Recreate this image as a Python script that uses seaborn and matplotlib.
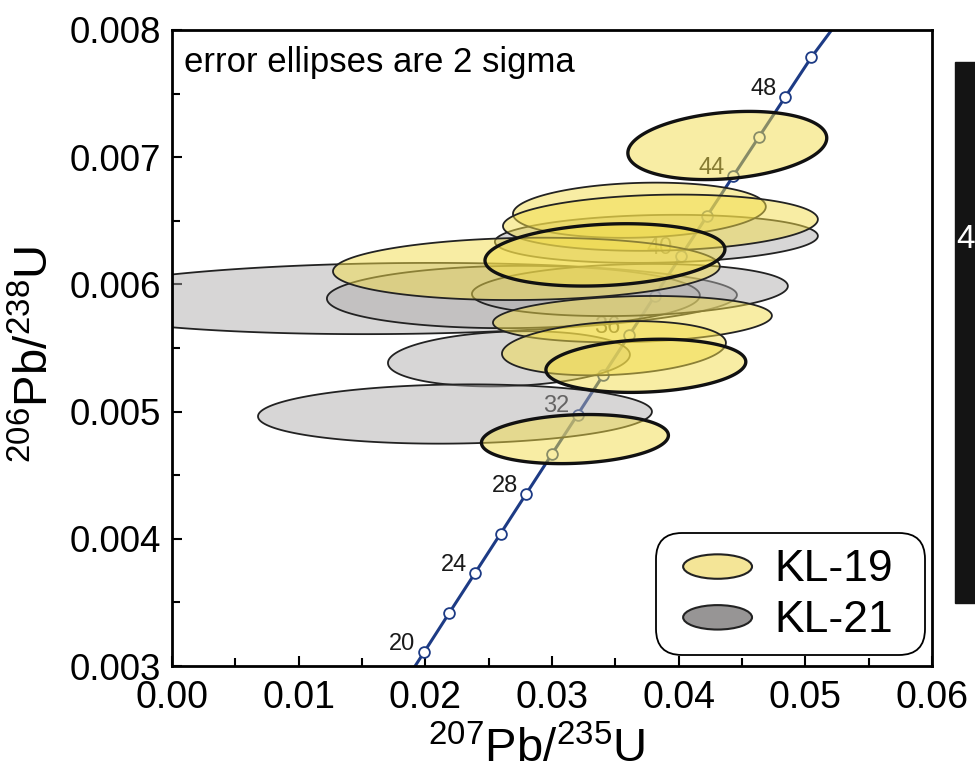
import numpy as np
import pandas as pd
import seaborn as sns
import matplotlib.pyplot as plt
import matplotlib.patches as mpatches
from matplotlib.colors import to_rgb
from matplotlib.transforms import IdentityTransform
from matplotlib.legend_handler import HandlerPatch
from matplotlib.ticker import MultipleLocator

# --- DATA ---
# concordia marker ages [Ma] and their ratios
AGES = [20, 22, 24, 26, 28, 30, 32, 34, 36, 38, 40, 42, 44, 46, 48, 50]
CONC_X = [0.01989, 0.02190, 0.02392, 0.02594, 0.02796, 0.02999, 0.03202, 0.03405,
          0.03609, 0.03813, 0.04018, 0.04223, 0.04429, 0.04635, 0.04841, 0.05048]
CONC_Y = [0.003107, 0.003419, 0.003730, 0.004041, 0.004353, 0.004665, 0.004976, 0.005288,
          0.005600, 0.005912, 0.006224, 0.006536, 0.006849, 0.007161, 0.007473, 0.007786]
LABELLED_AGES = [20, 24, 28, 32, 36, 40, 44, 48]
# concordia line ends (where it leaves the axes)
LINE_START = (0.0190, 0.00297)
LINE_END = (0.0523, 0.00803)

# KL-19 error ellipses: centre, 2-sigma half widths, correlation, bold outline
KL19_X = [0.04384, 0.03690, 0.03856, 0.03418, 0.02798, 0.03635, 0.03489, 0.03741, 0.03181]
KL19_Y = [0.007092, 0.006583, 0.006485, 0.006232, 0.006122, 0.005727, 0.005498, 0.005360, 0.004784]
KL19_SX = [0.00785, 0.00998, 0.01243, 0.00947, 0.01527, 0.01101, 0.00884, 0.00789, 0.00738]
KL19_SY = [0.000268, 0.000217, 0.000221, 0.000245, 0.000245, 0.000182, 0.000213, 0.000209, 0.000193]
KL19_RHO = [0.22, 0.13, 0.12, 0.18, 0.08, 0.15, 0.20, 0.15, 0.15]
KL19_BOLD = [True, False, False, True, False, False, False, True, True]

# KL-21 error ellipses
KL21_X = [0.01784, 0.02695, 0.03615, 0.02660, 0.02234, 0.03824]
KL21_Y = [0.005889, 0.005901, 0.005956, 0.005415, 0.004981, 0.006358]
KL21_SX = [0.02676, 0.01472, 0.01247, 0.00955, 0.01555, 0.01275]
KL21_SY = [0.000280, 0.000245, 0.000205, 0.000217, 0.000233, 0.000189]
KL21_RHO = [0.10, 0.05, 0.15, 0.15, 0.08, 0.12]

YELLOW = "#f2dc4a"
GREY = "#b0aeae"
LINE_BLUE = "#1d3b85"

sns.set_theme(style="ticks")
plt.rcParams["font.family"] = ["Liberation Sans", "DejaVu Sans"]
plt.rcParams["mathtext.fontset"] = "custom"
plt.rcParams["mathtext.rm"] = "Liberation Sans"
plt.rcParams["mathtext.it"] = "Liberation Sans:italic"
plt.rcParams["mathtext.bf"] = "Liberation Sans:bold"
plt.rcParams["text.color"] = "black"
plt.rcParams["axes.labelcolor"] = "black"
plt.rcParams["xtick.color"] = "black"
plt.rcParams["ytick.color"] = "black"


def ellipse_xy(cx, cy, sx, sy, rho, n=240):
    t = np.linspace(0, 2 * np.pi, n)
    x = cx + sx * np.cos(t)
    y = cy + sy * (rho * np.cos(t) + np.sqrt(1 - rho ** 2) * np.sin(t))
    return x, y


class HandlerEllipse(HandlerPatch):
    def create_artists(self, legend, orig_handle, xdescent, ydescent, width, height, fontsize, trans):
        center = 0.5 * width - 0.5 * xdescent, 0.5 * height - 0.5 * ydescent
        p = mpatches.Ellipse(xy=center, width=width + xdescent, height=height + ydescent)
        self.update_prop(p, orig_handle, legend)
        p.set_transform(trans)
        return [p]


fig = plt.figure(figsize=(9.75, 7.77), dpi=100)
ax = fig.add_axes([172 / 975, 111 / 777, 760 / 975, 636 / 777])

# concordia line + markers
conc = pd.DataFrame({
    "x": [LINE_START[0]] + CONC_X + [LINE_END[0]],
    "y": [LINE_START[1]] + CONC_Y + [LINE_END[1]],
})
sns.lineplot(data=conc, x="x", y="y", sort=False, color=LINE_BLUE, linewidth=2.2, ax=ax, zorder=1)
marks = pd.DataFrame({"age": AGES, "x": CONC_X, "y": CONC_Y})
sns.scatterplot(data=marks, x="x", y="y", s=60, color="white", edgecolor=LINE_BLUE,
                linewidth=1.3, ax=ax, zorder=1.5)
for age, x, y in zip(AGES, CONC_X, CONC_Y):
    if age in LABELLED_AGES:
        ax.annotate(str(age), (x, y), xytext=(-6, -2), textcoords="offset points",
                    ha="right", va="bottom", fontsize=17, color="#1a1a1a", zorder=1.6)

# KL-21 ellipses (grey)
for cx, cy, sx, sy, rho in zip(KL21_X, KL21_Y, KL21_SX, KL21_SY, KL21_RHO):
    ex, ey = ellipse_xy(cx, cy, sx, sy, rho)
    ax.fill(ex, ey, facecolor=(*to_rgb(GREY), 0.5),
            edgecolor="#222222", linewidth=1.3, zorder=2)

# KL-19 ellipses (yellow), bold ones on top
order = sorted(range(len(KL19_X)), key=lambda i: KL19_BOLD[i])
for i in order:
    ex, ey = ellipse_xy(KL19_X[i], KL19_Y[i], KL19_SX[i], KL19_SY[i], KL19_RHO[i])
    ax.fill(ex, ey, facecolor=(*to_rgb(YELLOW), 0.5),
            edgecolor="#111111" if KL19_BOLD[i] else "#222222",
            linewidth=2.4 if KL19_BOLD[i] else 1.3, zorder=3 if KL19_BOLD[i] else 2.5)

ax.set_xlim(0, 0.06)
ax.set_ylim(0.003, 0.008)
ax.xaxis.set_major_locator(MultipleLocator(0.01))
ax.xaxis.set_minor_locator(MultipleLocator(0.005))
ax.yaxis.set_major_locator(MultipleLocator(0.001))
ax.yaxis.set_minor_locator(MultipleLocator(0.0005))
ax.xaxis.set_major_formatter(plt.FuncFormatter(lambda v, p: f"{v:.2f}"))
ax.yaxis.set_major_formatter(plt.FuncFormatter(lambda v, p: f"{v:.3f}"))
ax.tick_params(which="both", direction="in", width=1.5, colors="black",
               top=False, right=False)
ax.tick_params(axis="x", which="major", length=7, pad=10, labelsize=27)
ax.tick_params(axis="y", which="major", length=7, pad=8, labelsize=26.5)
ax.tick_params(which="minor", length=6)
for side in ax.spines.values():
    side.set_visible(True)
    side.set_linewidth(2.0)
    side.set_color("black")

ax.set_xlabel(r"$^{207}$Pb/$^{235}$U", fontsize=34, labelpad=8)
ax.set_ylabel(r"$^{206}$Pb/$^{238}$U", fontsize=34, labelpad=8)
ax.xaxis.label.set_x(0.48)
ax.yaxis.label.set_y(0.49)

ax.text(0.016, 0.975, "error ellipses are 2 sigma", transform=ax.transAxes,
        ha="left", va="top", fontsize=25)

# legend: rounded box drawn separately so padding matches the reference
legend_box = mpatches.FancyBboxPatch((656, 777 - 655), 269, 122, transform=IdentityTransform(),
                                     boxstyle="round,pad=0,rounding_size=26",
                                     facecolor="white", edgecolor="black", linewidth=1.3,
                                     zorder=5, clip_on=False)
ax.add_artist(legend_box)
handles = [
    mpatches.Patch(facecolor="#f4e597", edgecolor="#222222", linewidth=1.5, label="KL-19"),
    mpatches.Patch(facecolor="#979595", edgecolor="#222222", linewidth=1.5, label="KL-21"),
]
leg = ax.legend(handles=handles, loc="center", bbox_to_anchor=(788 / 975, 1 - 595 / 777),
                bbox_transform=fig.transFigure, fontsize=32, frameon=False,
                handler_map={mpatches.Patch: HandlerEllipse()},
                handlelength=1.55, handleheight=0.55, handletextpad=0.5,
                labelspacing=0.22, borderpad=0.0)
leg.set_zorder(6)
for txt in leg.get_texts():
    txt.set_color("black")

# neighbouring panel edge (cropped in the reference)
fig.add_artist(mpatches.Rectangle((955 / 975, 1 - 603 / 777), 0.05, (603 - 62) / 777,
                                  transform=fig.transFigure, color="#141414", zorder=0))
fig.text(956 / 975, 1 - 240 / 777, "4", color="white", fontsize=24, ha="left", va="center")

fig.savefig("out.png", dpi=100)
